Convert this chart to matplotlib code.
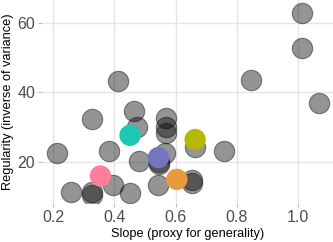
import matplotlib
matplotlib.use("Agg")
import matplotlib.pyplot as plt

plt.rcParams['font.family'] = ['Liberation Sans', 'DejaVu Sans']

# gray (unhighlighted) points
gray_x = [0.211, 0.413, 0.326, 0.465, 0.473, 0.381, 0.480, 0.257, 0.327, 0.327,
          0.396, 0.451, 0.544, 0.569, 0.569, 0.569, 0.566, 0.547, 0.547, 0.653,
          0.653, 0.664, 0.757, 0.846, 1.013, 1.013, 1.070]
gray_y = [22.6, 43.3, 32.2, 34.7, 30.1, 23.2, 20.2, 11.2, 11.3, 10.4,
          13.3, 11.1, 13.4, 32.5, 30.1, 28.2, 22.4, 20.0, 19.3, 14.7,
          13.8, 24.3, 23.2, 43.6, 62.8, 52.9, 37.0]

# highlighted points
hl_x = [0.451, 0.354, 0.544, 0.604, 0.664]
hl_y = [27.6, 15.9, 21.2, 14.9, 26.4]
hl_colors = ['#1CC8B4', '#FF7F9B', '#7474C0', '#E99A3E', '#B4B800']

x_ticks = [0.2, 0.4, 0.6, 0.8, 1.0]
x_ticklabels = ['0.2', '0.4', '0.6', '0.8', '1.0']
y_ticks = [20, 40, 60]
y_ticklabels = ['20', '40', '60']

fig = plt.figure(figsize=(3.33, 2.42), dpi=100)
ax = fig.add_axes([42/333, 39/242, 1 - 42/333, 1 - 39/242])

ax.scatter(gray_x, gray_y, s=215, facecolor=(0, 0, 0, 0.42),
           edgecolor=(0.1, 0.1, 0.1, 0.5), linewidth=0.8, zorder=3)
ax.scatter(hl_x, hl_y, s=235, c=hl_colors, edgecolor='none', zorder=4)

ax.set_xlim(0.163, 1.115)
ax.set_ylim(8.1, 66.6)
ax.set_xticks(x_ticks)
ax.set_xticklabels(x_ticklabels)
ax.set_yticks(y_ticks)
ax.set_yticklabels(y_ticklabels)

for s in ax.spines.values():
    s.set_visible(False)
ax.grid(True, color='#E5E5E5', linewidth=1.0, zorder=0)
ax.set_axisbelow(True)
ax.tick_params(axis='both', colors='#B0B0B0', length=3, width=0.6,
               labelsize=11.5, labelcolor='#4D4D4D', pad=2)

ax.set_xlabel('Slope (proxy for generality)', fontsize=9.2, color='black', labelpad=2)
ax.set_ylabel('Regularity (inverse of variance)', fontsize=9.2, color='black', labelpad=2)

fig.savefig('out.png', dpi=100)
